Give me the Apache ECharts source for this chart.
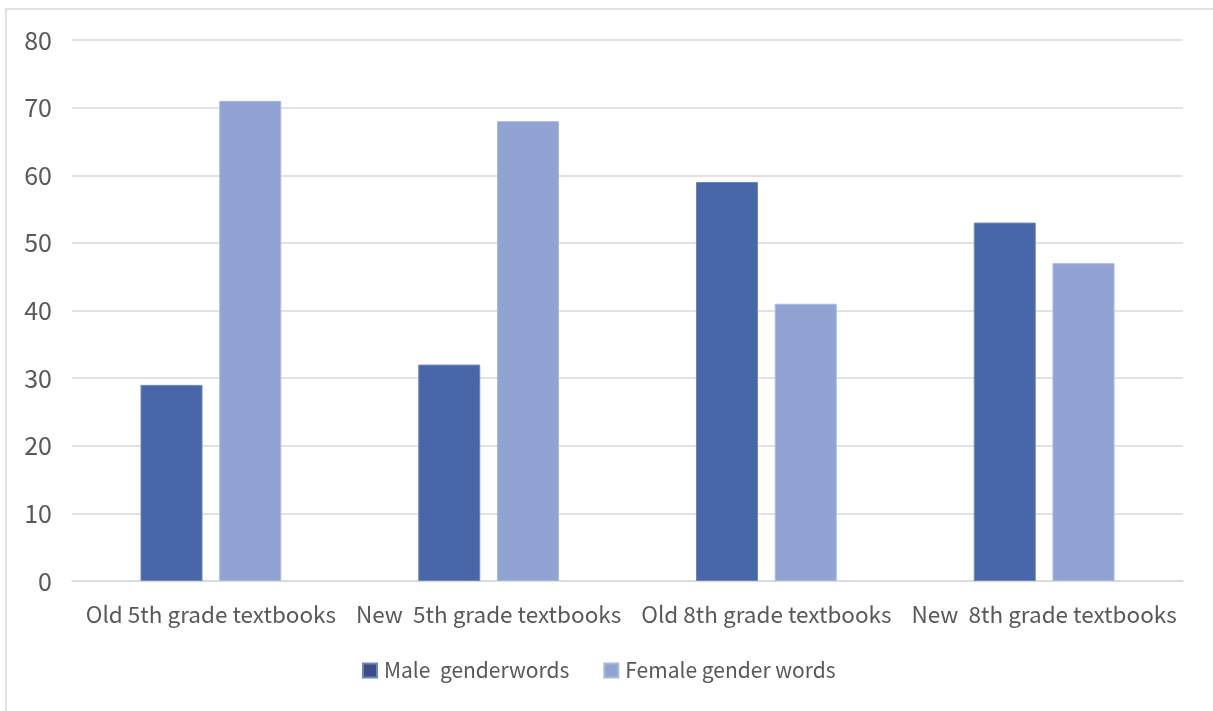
<!DOCTYPE html>
<html>
<head>
<meta charset="utf-8">
<script src="https://cdn.jsdelivr.net/npm/echarts@6/dist/echarts.min.js"></script>
<style>html,body{margin:0;padding:0;background:#fff}#c{width:1213px;height:711px}</style>
</head>
<body>
<div id="c"></div>
<script>
const categories = ['Old 5th grade textbooks', 'New  5th grade textbooks', 'Old 8th grade textbooks', 'New  8th grade textbooks'];
const maleValues = [29, 32, 59, 53];
const femaleValues = [71, 68, 41, 47];
const seriesNames = ['Male  genderwords', 'Female gender words'];
const yTicks = [0, 10, 20, 30, 40, 50, 60, 70, 80];

const FONT = '"Noto Sans CJK KR", "Noto Sans", sans-serif';
const chart = echarts.init(document.getElementById('c'), null, {renderer: 'canvas'});
chart.setOption({
  animation: false,
  backgroundColor: '#fff',
  graphic: [{
    type: 'rect',
    shape: {x: 6, y: 9, width: 1300, height: 800},
    style: {fill: 'none', stroke: '#d9d9d9', lineWidth: 1.5},
    silent: true
  }],
  grid: {left: 72, right: 30, top: 40, bottom: 130, containLabel: false},
  legend: {
    bottom: 25,
    left: 357,
    itemWidth: 14,
    itemHeight: 14,
    itemGap: 34,
    icon: 'rect',
    textStyle: {fontFamily: FONT, fontSize: 21, color: '#595959', padding: [0, 0, 0, 2]},
    data: [
      {name: seriesNames[0], itemStyle: {color: '#3b4d84'}},
      {name: seriesNames[1], itemStyle: {color: '#91a3d2'}}
    ]
  },
  xAxis: {
    type: 'category',
    data: categories,
    axisLine: {show: true, lineStyle: {color: '#d9d9d9', width: 1.5}},
    axisTick: {show: false},
    axisLabel: {fontFamily: FONT, fontSize: 22.5, color: '#595959', margin: 22, interval: 0}
  },
  yAxis: {
    type: 'value',
    min: yTicks[0],
    max: yTicks[yTicks.length - 1],
    interval: 10,
    axisLine: {show: false},
    axisTick: {show: false},
    splitLine: {lineStyle: {color: '#d9d9d9', width: 1.5}},
    axisLabel: {fontFamily: FONT, fontSize: 25, color: '#595959', margin: 20}
  },
  series: [
    {
      name: seriesNames[0], type: 'bar', data: maleValues,
      barWidth: 62, barGap: '27%',
      itemStyle: {color: '#4866a8', borderColor: '#6d86bd', borderWidth: 1}
    },
    {
      name: seriesNames[1], type: 'bar', data: femaleValues,
      barWidth: 62, barGap: '27%',
      itemStyle: {color: '#91a3d2', borderColor: '#a9b8de', borderWidth: 1}
    }
  ]
});
</script>
</body>
</html>
